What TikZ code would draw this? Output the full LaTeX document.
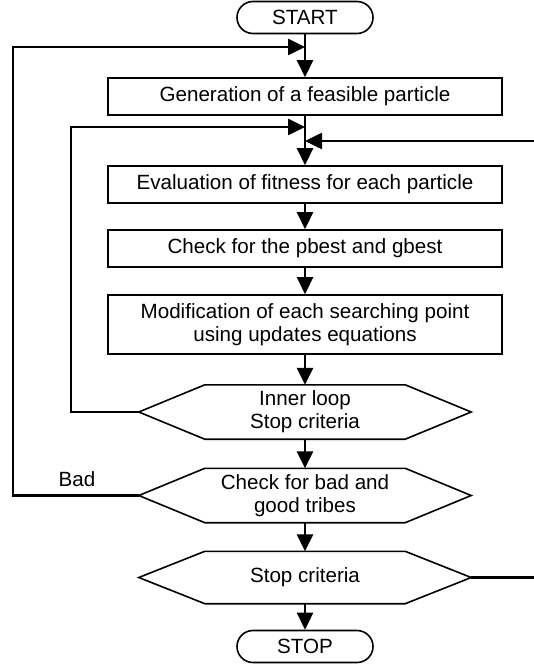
\documentclass[tikz,border=0pt]{standalone}
\usepackage{fontspec}
\setmainfont{Liberation Sans}
\usetikzlibrary{arrows.meta,calc}
\newcommand\hexdraw[1]{\draw[line width=1.6pt] (#1.west) -- ($(#1.north west)+(66,0)$) -- ($(#1.north east)+(-66,0)$) -- (#1.east) -- ($(#1.south east)+(-66,0)$) -- ($(#1.south west)+(66,0)$) -- cycle;}
\begin{document}
\begin{tikzpicture}[x=1pt,y=-1pt,
 txt/.style={font=\fontsize{20.6}{23}\selectfont},
 box/.style={txt,draw,line width=1.6pt,minimum width=394pt,minimum height=37pt,inner sep=0pt,align=center},
 term/.style={txt,draw,line width=1.6pt,rounded corners=16pt,minimum width=136pt,minimum height=32pt,inner sep=0pt},
 hexn/.style={txt,minimum width=332pt,minimum height=54pt,inner sep=0pt,align=center},
 conn/.style={line width=2.6pt},
 arr/.style={conn,-{Triangle[length=17pt,width=16pt]}},
]
\useasboundingbox (0,0) rectangle (533,668);
\node[term] (start) at (305,17.5) {START};
\node[box] (b1) at (305,96.5) {Generation of a feasible particle};
\node[box] (b2) at (305,184.5) {Evaluation of fitness for each particle};
\node[box] (b3) at (305,248.5) {Check for the pbest and gbest};
\node[box,minimum height=59pt] (b4) at (305,324.5) {Modification of each searching point\\using updates equations};
\node[hexn] (h1) at (305,412) {Inner loop\\Stop criteria};
\node[hexn] (h2) at (305,495.5) {Check for bad and\\good tribes};
\node[hexn,minimum height=52pt] (h3) at (305,577.5) {Stop criteria};
\node[term] (stop) at (305,646.5) {STOP};
\hexdraw{h1}\hexdraw{h2}\hexdraw{h3}
\node[txt] (bad) at (77,479) {Bad};
\coordinate (j1) at (305,47);
\coordinate (j2) at (305,127);
\coordinate (j3) at (305,141);
\coordinate (o1) at (13,47);
\coordinate (i1) at (71,127);
\coordinate (r1) at (537,141);
\draw[arr] (start) -- (b1);
\draw[arr] (b1) -- (b2);
\draw[arr] (b2) -- (b3);
\draw[arr] (b3) -- (b4);
\draw[arr] (b4) -- (h1);
\draw[arr] (h1) -- (h2);
\draw[arr] (h2) -- (h3);
\draw[arr] (h3) -- (stop);
\draw[arr] (h2.west) -| (o1) -- (j1);
\draw[arr] (h1.west) -| (i1) -- (j2);
\draw[arr] (h3.east) -| (r1) -- (j3);
\end{tikzpicture}
\end{document}
